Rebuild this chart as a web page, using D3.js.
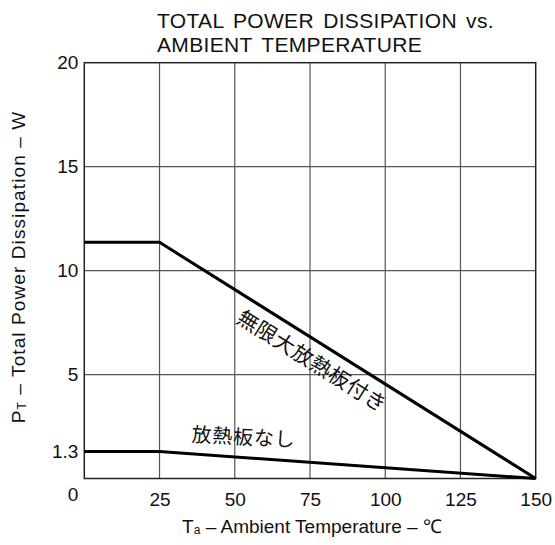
<!DOCTYPE html>
<html>
<head>
<meta charset="utf-8">
<script src="https://cdn.jsdelivr.net/npm/d3@7"></script>
<style>
  html, body { margin: 0; padding: 0; background: #fff; }
  svg { display: block; }
  .lat { font-family: "Liberation Sans", Arial, sans-serif; fill: #111; }
  .jp { font-family: "Noto Sans CJK JP", sans-serif; fill: #111; }
</style>
</head>
<body>
<div id="chart"></div>
<script>
// ---- data ----
const temps = [0, 25, 150];
const withInfiniteHeatsink = [11.36, 11.36, 0];   // 無限大放熱板付き
const withoutHeatsink = [1.3, 1.3, 0];            // 放熱板なし
const xTicks = [0, 25, 50, 75, 100, 125, 150];
const yTicks = [1.3, 5, 10, 15, 20];
const yGrid = [5, 10, 15];
const titleLines = ["TOTAL POWER DISSIPATION vs.", "AMBIENT TEMPERATURE"];
const labelWith = "無限大放熱板付き";
const labelWithout = "放熱板なし";

// ---- layout ----
const W = 555, H = 545;
const svg = d3.select("#chart").append("svg").attr("width", W).attr("height", H);

const x = d3.scaleLinear().domain([0, 150]).range([84.3, 535.7]);
const y = d3.scaleLinear().domain([0, 20]).range([478.5, 62.7]);

// grid
const g = svg.append("g");
g.selectAll("line.vg").data(xTicks.slice(1, -1)).enter().append("line")
  .attr("x1", d => x(d)).attr("x2", d => x(d))
  .attr("y1", y(0)).attr("y2", y(20))
  .attr("stroke", "#555").attr("stroke-width", 1.2);
g.selectAll("line.hg").data(yGrid).enter().append("line")
  .attr("x1", x(0)).attr("x2", x(150))
  .attr("y1", d => y(d)).attr("y2", d => y(d))
  .attr("stroke", "#555").attr("stroke-width", 1.2);

// frame
svg.append("rect")
  .attr("x", x(0)).attr("y", y(20))
  .attr("width", x(150) - x(0)).attr("height", y(0) - y(20))
  .attr("fill", "none").attr("stroke", "#222").attr("stroke-width", 1.5);

// axes tick labels using d3 axes
const xAxis = d3.axisBottom(x).tickValues(xTicks.slice(1)).tickSize(0).tickPadding(14);
const xa = svg.append("g").attr("transform", `translate(0,${y(0)})`).call(xAxis);
xa.select(".domain").remove();
xa.selectAll("text").attr("class", "lat").style("font-size", "19px").attr("fill", "#111");

const yAxis = d3.axisLeft(y).tickValues(yTicks.slice()).tickSize(0).tickPadding(6)
  .tickFormat(d => d === 1.3 ? "1.3" : d3.format("d")(d));
const ya = svg.append("g").attr("transform", `translate(${x(0)},0)`).call(yAxis);
ya.select(".domain").remove();
ya.selectAll("text").attr("class", "lat").style("font-size", "19px").attr("fill", "#111");

// "0" origin label
svg.append("text").attr("class", "lat")
  .attr("x", x(0) - 6).attr("y", y(0) + 22)
  .attr("text-anchor", "end").style("font-size", "19px").text(xTicks[0]);

// data lines
const line = d3.line().x(d => x(d[0])).y(d => y(d[1]));
svg.append("path")
  .attr("d", line(temps.map((t, i) => [t, withInfiniteHeatsink[i]])))
  .attr("fill", "none").attr("stroke", "#000").attr("stroke-width", 3);
svg.append("path")
  .attr("d", line(temps.map((t, i) => [t, withoutHeatsink[i]])))
  .attr("fill", "none").attr("stroke", "#000").attr("stroke-width", 3);

// annotations
const ang = Math.atan2(y(withInfiniteHeatsink[2]) - y(withInfiniteHeatsink[1]), x(temps[2]) - x(temps[1])) * 180 / Math.PI;
const startT = 54.9;
const startV = withInfiniteHeatsink[1] * (temps[2] - startT) / (temps[2] - temps[1]);
svg.append("text").attr("class", "jp")
  .attr("transform", `translate(${x(startT)},${y(startV)}) rotate(${ang})`)
  .attr("y", 27)
  .style("font-size", "21px").style("letter-spacing", "0.5px")
  .text(labelWith);
svg.append("text").attr("class", "jp")
  .attr("transform", `translate(${x(35.5)},${y(1.78)}) rotate(3)`)
  .style("font-size", "20px").style("letter-spacing", "0.8px")
  .text(labelWithout);

// title
const t = svg.append("text").attr("class", "lat").style("font-size", "21px")
  .style("letter-spacing", "0.35px").style("word-spacing", "3px");
t.selectAll("tspan").data(titleLines).enter().append("tspan")
  .attr("x", 157).attr("y", (d, i) => 28 + i * 24).text(d => d);

// x axis label
const xl = svg.append("text").attr("class", "lat").style("font-size", "19px")
  .attr("x", 312).attr("y", 533).attr("text-anchor", "middle");
xl.append("tspan").text("T");
xl.append("tspan").style("font-size", "12px").attr("dy", 1).text("a");
xl.append("tspan").attr("dy", -1).text(" – Ambient Temperature – ℃");

// y axis label
const yl = svg.append("text").attr("class", "lat").style("font-size", "19px").style("letter-spacing", "1.1px")
  .attr("transform", `translate(25,267) rotate(-90)`).attr("text-anchor", "middle");
yl.append("tspan").text("P");
yl.append("tspan").style("font-size", "12px").attr("dy", 1).text("T");
yl.append("tspan").attr("dy", -1).text(" – Total Power Dissipation – W");
</script>
</body>
</html>
